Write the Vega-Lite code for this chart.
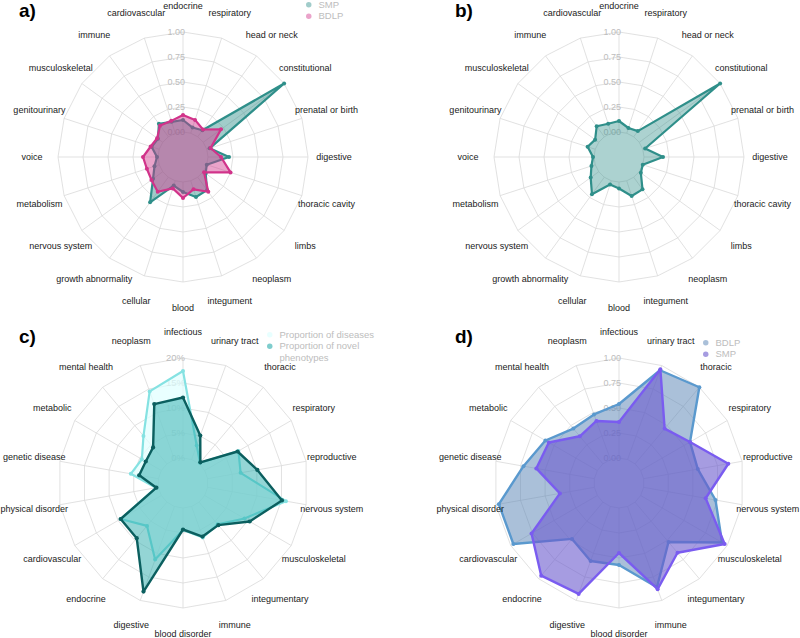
{
  "$schema": "https://vega.github.io/schema/vega-lite/v6.json",
  "padding": 0,
  "background": "white",
  "config": {"view": {"stroke": null}, "font": "Liberation Sans"},
  "datasets": {
    "da": [
      {"category": "endocrine", "SMP": 0.12, "BDLP": 0.17},
      {"category": "respiratory", "SMP": 0.06, "BDLP": 0.14},
      {"category": "head or neck", "SMP": 0.08, "BDLP": 0.09},
      {"category": "constitutional", "SMP": 1.0, "BDLP": 0.22},
      {"category": "prenatal or birth", "SMP": 0.03, "BDLP": 0.04},
      {"category": "digestive", "SMP": 0.21, "BDLP": 0.13},
      {"category": "thoracic cavity", "SMP": 0.0, "BDLP": 0.25},
      {"category": "limbs", "SMP": 0.03, "BDLP": 0.01},
      {"category": "neoplasm", "SMP": 0.16, "BDLP": 0.18},
      {"category": "integument", "SMP": 0.17, "BDLP": 0.09},
      {"category": "blood", "SMP": 0.1, "BDLP": 0.16},
      {"category": "cellular", "SMP": 0.05, "BDLP": 0.08},
      {"category": "growth abnormality", "SMP": 0.31, "BDLP": 0.18},
      {"category": "nervous system", "SMP": 0.12, "BDLP": 0.14},
      {"category": "metabolism", "SMP": 0.05, "BDLP": 0.13},
      {"category": "voice", "SMP": 0.01, "BDLP": 0.15},
      {"category": "genitourinary", "SMP": 0.08, "BDLP": 0.09},
      {"category": "musculoskeletal", "SMP": 0.06, "BDLP": 0.07},
      {"category": "immune", "SMP": 0.16, "BDLP": 0.14},
      {"category": "cardiovascular", "SMP": 0.12, "BDLP": 0.13}
    ],
    "db": [
      {"category": "endocrine", "SMP": 0.11},
      {"category": "respiratory", "SMP": 0.055},
      {"category": "head or neck", "SMP": 0.07},
      {"category": "constitutional", "SMP": 1.0},
      {"category": "prenatal or birth", "SMP": 0.025},
      {"category": "digestive", "SMP": 0.19},
      {"category": "thoracic cavity", "SMP": 0.0},
      {"category": "limbs", "SMP": 0.02},
      {"category": "neoplasm", "SMP": 0.15},
      {"category": "integument", "SMP": 0.16},
      {"category": "blood", "SMP": 0.065},
      {"category": "cellular", "SMP": 0.04},
      {"category": "growth abnormality", "SMP": 0.21},
      {"category": "nervous system", "SMP": 0.1},
      {"category": "metabolism", "SMP": 0.04},
      {"category": "voice", "SMP": 0.01},
      {"category": "genitourinary", "SMP": 0.08},
      {"category": "musculoskeletal", "SMP": 0.045},
      {"category": "immune", "SMP": 0.13},
      {"category": "cardiovascular", "SMP": 0.1}
    ],
    "dc": [
      {"category": "infectious", "diseases": 17.4, "novel": 12.1},
      {"category": "urinary tract", "diseases": 3.0, "novel": 5.1},
      {"category": "thoracic", "diseases": 0.3, "novel": 0.4},
      {"category": "respiratory", "diseases": 7.8, "novel": 7.6},
      {"category": "reproductive", "diseases": 6.7, "novel": 10.1},
      {"category": "nervous system", "diseases": 15.9, "novel": 15.1},
      {"category": "musculoskeletal", "diseases": 9.2, "novel": 10.4},
      {"category": "integumentary", "diseases": 5.8, "novel": 6.0},
      {"category": "immune", "diseases": 6.6, "novel": 6.4},
      {"category": "blood disorder", "diseases": 4.4, "novel": 4.3},
      {"category": "digestive", "diseases": 11.3, "novel": 18.1},
      {"category": "endocrine", "diseases": 6.2, "novel": 9.4},
      {"category": "cardiovascular", "diseases": 9.4, "novel": 9.4},
      {"category": "physical disorder", "diseases": 0.5, "novel": 0.4},
      {"category": "genetic disease", "diseases": 5.6, "novel": 3.9},
      {"category": "metabolic", "diseases": 4.5, "novel": 3.6},
      {"category": "mental health", "diseases": 7.3, "novel": 4.3},
      {"category": "neoplasm", "diseases": 14.5, "novel": 11.8}
    ],
    "dd": [
      {"category": "infectious", "BDLP": 0.54, "SMP": 0.36},
      {"category": "urinary tract", "BDLP": 0.95, "SMP": 0.96},
      {"category": "thoracic", "BDLP": 1.0, "SMP": 0.46},
      {"category": "respiratory", "BDLP": 0.57, "SMP": 0.57},
      {"category": "reproductive", "BDLP": 0.55, "SMP": 0.86},
      {"category": "nervous system", "BDLP": 0.73, "SMP": 0.63},
      {"category": "musculoskeletal", "BDLP": 0.94, "SMP": 0.97},
      {"category": "integumentary", "BDLP": 0.52, "SMP": 0.66},
      {"category": "immune", "BDLP": 0.86, "SMP": 0.88},
      {"category": "blood disorder", "BDLP": 0.57, "SMP": 0.45},
      {"category": "digestive", "BDLP": 0.58, "SMP": 0.93},
      {"category": "endocrine", "BDLP": 0.48, "SMP": 0.96},
      {"category": "cardiovascular", "BDLP": 0.97, "SMP": 0.76},
      {"category": "physical disorder", "BDLP": 0.97, "SMP": 0.35},
      {"category": "genetic disease", "BDLP": 0.72, "SMP": 0.59},
      {"category": "metabolic", "BDLP": 0.6, "SMP": 0.56},
      {"category": "mental health", "BDLP": 0.46, "SMP": 0.36},
      {"category": "neoplasm", "BDLP": 0.48, "SMP": 0.41}
    ]
  },
  "columns": 2,
  "spacing": {"row": 14, "column": 72},
  "bounds": "flush",
  "resolve": {
    "scale": {"x": "independent", "y": "independent", "fill": "independent", "stroke": "independent", "color": "independent"},
    "legend": {"fill": "independent", "stroke": "independent", "color": "independent"}
  },
  "concat": [
    {
      "width": 364, "height": 312,
      "title": {"text": "a)", "anchor": "start", "frame": "group", "offset": 0, "baseline": "alphabetic", "dx": 19, "dy": 36, "fontSize": 19, "fontWeight": "bold", "color": "#000000", "font": "Liberation Sans"},
      "data": {"name": "da"},
      "transform": [
        {"window": [{"op": "row_number", "as": "rn"}]},
        {"calculate": "2*PI*(datum.rn-1)/20", "as": "theta"}
      ],
      "encoding": {
        "x": {"field": "px", "type": "quantitative", "scale": {"domain": [-1.83, 1.81], "nice": false, "zero": false}, "axis": null},
        "y": {"field": "py", "type": "quantitative", "scale": {"domain": [-1.55, 1.57], "nice": false, "zero": false}, "axis": null}
      },
      "layer": [
        {
          "transform": [
            {"calculate": "[0, 0.25, 0.5, 0.75, 1]", "as": "lv"},
            {"flatten": ["lv"]},
            {"calculate": "(datum.lv + 0.25) * sin(datum.theta)", "as": "px"},
            {"calculate": "(datum.lv + 0.25) * cos(datum.theta)", "as": "py"}
          ],
          "mark": {"type": "line", "interpolate": "linear-closed", "color": "#D9D9D9", "strokeWidth": 0.8},
          "encoding": {"detail": {"field": "lv", "type": "nominal"}, "order": {"field": "rn", "type": "quantitative"}}
        },
        {
          "transform": [
            {"calculate": "0.25 * sin(datum.theta)", "as": "px"},
            {"calculate": "0.25 * cos(datum.theta)", "as": "py"},
            {"calculate": "1.25 * sin(datum.theta)", "as": "px2"},
            {"calculate": "1.25 * cos(datum.theta)", "as": "py2"}
          ],
          "mark": {"type": "rule", "color": "#D9D9D9", "strokeWidth": 0.8},
          "encoding": {"x2": {"field": "px2"}, "y2": {"field": "py2"}}
        },
        {
          "transform": [{"filter": "datum.rn == 1"}],
          "mark": {"type": "rule", "color": "#D4D4D4", "strokeWidth": 1.4},
          "encoding": {"x": {"datum": -1.3}, "x2": {"datum": 1.3}, "y": {"datum": 0}}
        },
        {
          "transform": [
            {"filter": "datum.rn == 1"},
            {"calculate": "[0, 0.25, 0.5, 0.75, 1]", "as": "lv"},
            {"flatten": ["lv"]},
            {"calculate": "0", "as": "px"},
            {"calculate": "datum.lv + 0.25", "as": "py"},
            {"calculate": "format(datum.lv, '.2f')", "as": "lab"}
          ],
          "mark": {"type": "text", "align": "right", "baseline": "middle", "dx": 2, "fontSize": 9, "color": "#BDBDBD"},
          "encoding": {"text": {"field": "lab", "type": "nominal"}}
        },
        {
          "transform": [
            {"fold": ["SMP", "BDLP"], "as": ["series", "value"]},
            {"filter": "datum.series == 'SMP'"},
            {"calculate": "(datum.value + 0.25) * sin(datum.theta)", "as": "px"},
            {"calculate": "(datum.value + 0.25) * cos(datum.theta)", "as": "py"}
          ],
          "mark": {"type": "line", "interpolate": "linear-closed", "strokeWidth": 2.2, "fillOpacity": 0.45, "strokeJoin": "round"},
          "encoding": {
            "order": {"field": "rn", "type": "quantitative"},
            "fill": {"field": "series", "type": "nominal", "scale": {"domain": ["SMP", "BDLP"], "range": ["#2F8F8A", "#D1338A"]},
              "legend": {"orient": "none", "legendX": 304, "legendY": 0, "title": null, "symbolType": "circle", "symbolSize": 30, "labelFontSize": 9.5, "labelColor": "#BDBDBD", "labelFont": "Liberation Sans", "labelOffset": 5, "rowPadding": 0.5, "padding": 0,
                "encode": {"symbols": {"update": {"stroke": {"value": "transparent"}, "strokeWidth": {"value": 0}, "fillOpacity": {"value": 1}, "opacity": {"value": 0.45}}}}}},
            "stroke": {"field": "series", "type": "nominal", "scale": {"domain": ["SMP", "BDLP"], "range": ["#2F8F8A", "#D1338A"]}, "legend": null}
          }
        },
        {
          "transform": [
            {"fold": ["SMP", "BDLP"], "as": ["series", "value"]},
            {"filter": "datum.series == 'SMP'"},
            {"calculate": "(datum.value + 0.25) * sin(datum.theta)", "as": "px"},
            {"calculate": "(datum.value + 0.25) * cos(datum.theta)", "as": "py"}
          ],
          "mark": {"type": "point", "filled": true, "size": 16, "opacity": 1},
          "encoding": {"color": {"field": "series", "type": "nominal", "scale": {"domain": ["SMP", "BDLP"], "range": ["#2F8F8A", "#D1338A"]}, "legend": null}}
        },
        {
          "transform": [
            {"fold": ["SMP", "BDLP"], "as": ["series", "value"]},
            {"filter": "datum.series == 'BDLP'"},
            {"calculate": "(datum.value + 0.25) * sin(datum.theta)", "as": "px"},
            {"calculate": "(datum.value + 0.25) * cos(datum.theta)", "as": "py"}
          ],
          "mark": {"type": "line", "interpolate": "linear-closed", "strokeWidth": 2.2, "fillOpacity": 0.45, "strokeJoin": "round"},
          "encoding": {
            "order": {"field": "rn", "type": "quantitative"},
            "fill": {"field": "series", "type": "nominal", "scale": {"domain": ["SMP", "BDLP"], "range": ["#2F8F8A", "#D1338A"]},
              "legend": {"orient": "none", "legendX": 304, "legendY": 0, "title": null, "symbolType": "circle", "symbolSize": 30, "labelFontSize": 9.5, "labelColor": "#BDBDBD", "labelFont": "Liberation Sans", "labelOffset": 5, "rowPadding": 0.5, "padding": 0,
                "encode": {"symbols": {"update": {"stroke": {"value": "transparent"}, "strokeWidth": {"value": 0}, "fillOpacity": {"value": 1}, "opacity": {"value": 0.45}}}}}},
            "stroke": {"field": "series", "type": "nominal", "scale": {"domain": ["SMP", "BDLP"], "range": ["#2F8F8A", "#D1338A"]}, "legend": null}
          }
        },
        {
          "transform": [
            {"fold": ["SMP", "BDLP"], "as": ["series", "value"]},
            {"filter": "datum.series == 'BDLP'"},
            {"calculate": "(datum.value + 0.25) * sin(datum.theta)", "as": "px"},
            {"calculate": "(datum.value + 0.25) * cos(datum.theta)", "as": "py"}
          ],
          "mark": {"type": "point", "filled": true, "size": 16, "opacity": 1},
          "encoding": {"color": {"field": "series", "type": "nominal", "scale": {"domain": ["SMP", "BDLP"], "range": ["#2F8F8A", "#D1338A"]}, "legend": null}}
        },
        {
          "transform": [
            {"calculate": "1.51 * sin(datum.theta)", "as": "px"},
            {"calculate": "1.51 * cos(datum.theta)", "as": "py"}
          ],
          "mark": {"type": "text", "align": "center", "baseline": "middle", "fontSize": 9, "color": "#1A1A1A"},
          "encoding": {"text": {"field": "category", "type": "nominal"}}
        }
      ]
    },
    {
      "width": 364, "height": 312,
      "title": {"text": "b)", "anchor": "start", "frame": "group", "offset": 0, "baseline": "alphabetic", "dx": 19, "dy": 36, "fontSize": 19, "fontWeight": "bold", "color": "#000000", "font": "Liberation Sans"},
      "data": {"name": "db"},
      "transform": [
        {"window": [{"op": "row_number", "as": "rn"}]},
        {"calculate": "2*PI*(datum.rn-1)/20", "as": "theta"}
      ],
      "encoding": {
        "x": {"field": "px", "type": "quantitative", "scale": {"domain": [-1.83, 1.81], "nice": false, "zero": false}, "axis": null},
        "y": {"field": "py", "type": "quantitative", "scale": {"domain": [-1.55, 1.57], "nice": false, "zero": false}, "axis": null}
      },
      "layer": [
        {
          "transform": [
            {"calculate": "[0, 0.25, 0.5, 0.75, 1]", "as": "lv"},
            {"flatten": ["lv"]},
            {"calculate": "(datum.lv + 0.25) * sin(datum.theta)", "as": "px"},
            {"calculate": "(datum.lv + 0.25) * cos(datum.theta)", "as": "py"}
          ],
          "mark": {"type": "line", "interpolate": "linear-closed", "color": "#D9D9D9", "strokeWidth": 0.8},
          "encoding": {"detail": {"field": "lv", "type": "nominal"}, "order": {"field": "rn", "type": "quantitative"}}
        },
        {
          "transform": [
            {"calculate": "0.25 * sin(datum.theta)", "as": "px"},
            {"calculate": "0.25 * cos(datum.theta)", "as": "py"},
            {"calculate": "1.25 * sin(datum.theta)", "as": "px2"},
            {"calculate": "1.25 * cos(datum.theta)", "as": "py2"}
          ],
          "mark": {"type": "rule", "color": "#D9D9D9", "strokeWidth": 0.8},
          "encoding": {"x2": {"field": "px2"}, "y2": {"field": "py2"}}
        },
        {
          "transform": [{"filter": "datum.rn == 1"}],
          "mark": {"type": "rule", "color": "#D4D4D4", "strokeWidth": 1.4},
          "encoding": {"x": {"datum": -1.3}, "x2": {"datum": 1.3}, "y": {"datum": 0}}
        },
        {
          "transform": [
            {"filter": "datum.rn == 1"},
            {"calculate": "[0, 0.25, 0.5, 0.75, 1]", "as": "lv"},
            {"flatten": ["lv"]},
            {"calculate": "0", "as": "px"},
            {"calculate": "datum.lv + 0.25", "as": "py"},
            {"calculate": "format(datum.lv, '.2f')", "as": "lab"}
          ],
          "mark": {"type": "text", "align": "right", "baseline": "middle", "dx": 2, "fontSize": 9, "color": "#BDBDBD"},
          "encoding": {"text": {"field": "lab", "type": "nominal"}}
        },
        {
          "transform": [
            {"fold": ["SMP"], "as": ["series", "value"]},
            {"calculate": "(datum.value + 0.25) * sin(datum.theta)", "as": "px"},
            {"calculate": "(datum.value + 0.25) * cos(datum.theta)", "as": "py"}
          ],
          "mark": {"type": "line", "interpolate": "linear-closed", "strokeWidth": 2.2, "fillOpacity": 0.4, "strokeJoin": "round"},
          "encoding": {
            "order": {"field": "rn", "type": "quantitative"},
            "fill": {"field": "series", "type": "nominal", "scale": {"domain": ["SMP"], "range": ["#2F8F8A"]}, "legend": null},
            "stroke": {"field": "series", "type": "nominal", "scale": {"domain": ["SMP"], "range": ["#2F8F8A"]}, "legend": null}
          }
        },
        {
          "transform": [
            {"fold": ["SMP"], "as": ["series", "value"]},
            {"calculate": "(datum.value + 0.25) * sin(datum.theta)", "as": "px"},
            {"calculate": "(datum.value + 0.25) * cos(datum.theta)", "as": "py"}
          ],
          "mark": {"type": "point", "filled": true, "size": 16, "opacity": 1},
          "encoding": {"color": {"field": "series", "type": "nominal", "scale": {"domain": ["SMP"], "range": ["#2F8F8A"]}, "legend": null}}
        },
        {
          "transform": [
            {"calculate": "1.51 * sin(datum.theta)", "as": "px"},
            {"calculate": "1.51 * cos(datum.theta)", "as": "py"}
          ],
          "mark": {"type": "text", "align": "center", "baseline": "middle", "fontSize": 9, "color": "#1A1A1A"},
          "encoding": {"text": {"field": "category", "type": "nominal"}}
        }
      ]
    },
    {
      "width": 364, "height": 312,
      "title": {"text": "c)", "anchor": "start", "frame": "group", "offset": 0, "baseline": "alphabetic", "dx": 19, "dy": 36, "fontSize": 19, "fontWeight": "bold", "color": "#000000", "font": "Liberation Sans"},
      "data": {"name": "dc"},
      "transform": [
        {"window": [{"op": "row_number", "as": "rn"}]},
        {"calculate": "2*PI*(datum.rn-1)/18", "as": "theta"}
      ],
      "encoding": {
        "x": {"field": "px", "type": "quantitative", "scale": {"domain": [-1.83, 1.81], "nice": false, "zero": false}, "axis": null},
        "y": {"field": "py", "type": "quantitative", "scale": {"domain": [-1.55, 1.57], "nice": false, "zero": false}, "axis": null}
      },
      "layer": [
        {
          "transform": [
            {"calculate": "[0, 5, 10, 15, 20]", "as": "lv"},
            {"flatten": ["lv"]},
            {"calculate": "(datum.lv + 5) / 20 * sin(datum.theta)", "as": "px"},
            {"calculate": "(datum.lv + 5) / 20 * cos(datum.theta)", "as": "py"}
          ],
          "mark": {"type": "line", "interpolate": "linear-closed", "color": "#D9D9D9", "strokeWidth": 0.8},
          "encoding": {"detail": {"field": "lv", "type": "nominal"}, "order": {"field": "rn", "type": "quantitative"}}
        },
        {
          "transform": [
            {"calculate": "0.25 * sin(datum.theta)", "as": "px"},
            {"calculate": "0.25 * cos(datum.theta)", "as": "py"},
            {"calculate": "1.25 * sin(datum.theta)", "as": "px2"},
            {"calculate": "1.25 * cos(datum.theta)", "as": "py2"}
          ],
          "mark": {"type": "rule", "color": "#D9D9D9", "strokeWidth": 0.8},
          "encoding": {"x2": {"field": "px2"}, "y2": {"field": "py2"}}
        },
        {
          "transform": [
            {"filter": "datum.rn == 1"},
            {"calculate": "[0, 5, 10, 15, 20]", "as": "lv"},
            {"flatten": ["lv"]},
            {"calculate": "0", "as": "px"},
            {"calculate": "(datum.lv + 5) / 20", "as": "py"},
            {"calculate": "datum.lv + '%'", "as": "lab"}
          ],
          "mark": {"type": "text", "align": "right", "baseline": "middle", "dx": 2, "fontSize": 9.5, "color": "#BDBDBD"},
          "encoding": {"text": {"field": "lab", "type": "nominal"}}
        },
        {
          "transform": [
            {"fold": ["diseases", "novel"], "as": ["series", "value"]},
            {"filter": "datum.series == 'diseases'"},
            {"calculate": "(datum.value + 5) / 20 * sin(datum.theta)", "as": "px"},
            {"calculate": "(datum.value + 5) / 20 * cos(datum.theta)", "as": "py"}
          ],
          "mark": {"type": "line", "interpolate": "linear-closed", "strokeWidth": 2.2, "fillOpacity": 0.7, "strokeJoin": "round"},
          "encoding": {
            "order": {"field": "rn", "type": "quantitative"},
            "fill": {"field": "series", "type": "nominal", "scale": {"domain": ["diseases", "novel"], "range": ["#E0FFFF", "#2AABAB"]},
              "legend": {"orient": "none", "legendX": 265, "legendY": 4, "title": null, "symbolType": "circle", "symbolSize": 30, "labelFontSize": 9.5, "labelColor": "#BDBDBD", "labelFont": "Liberation Sans", "labelOffset": 5, "rowPadding": 0.5, "padding": 0,
                "labelExpr": "datum.value == 'diseases' ? 'Proportion of diseases' : ['Proportion of novel', '   phenotypes']",
                "encode": {"symbols": {"update": {"stroke": {"value": "transparent"}, "strokeWidth": {"value": 0}, "fillOpacity": {"value": 1}, "opacity": {"signal": "datum.value == 'diseases' ? 0.75 : 0.6"}}}}}},
            "stroke": {"field": "series", "type": "nominal", "scale": {"domain": ["diseases", "novel"], "range": ["#85E2E2", "#0B5F5F"]}, "legend": null}
          }
        },
        {
          "transform": [
            {"fold": ["diseases", "novel"], "as": ["series", "value"]},
            {"filter": "datum.series == 'diseases'"},
            {"calculate": "(datum.value + 5) / 20 * sin(datum.theta)", "as": "px"},
            {"calculate": "(datum.value + 5) / 20 * cos(datum.theta)", "as": "py"}
          ],
          "mark": {"type": "point", "filled": true, "size": 16, "opacity": 1},
          "encoding": {"color": {"field": "series", "type": "nominal", "scale": {"domain": ["diseases", "novel"], "range": ["#85E2E2", "#0B5F5F"]}, "legend": null}}
        },
        {
          "transform": [
            {"fold": ["diseases", "novel"], "as": ["series", "value"]},
            {"filter": "datum.series == 'novel'"},
            {"calculate": "(datum.value + 5) / 20 * sin(datum.theta)", "as": "px"},
            {"calculate": "(datum.value + 5) / 20 * cos(datum.theta)", "as": "py"}
          ],
          "mark": {"type": "line", "interpolate": "linear-closed", "strokeWidth": 2.4, "fillOpacity": 0.5, "strokeJoin": "round"},
          "encoding": {
            "order": {"field": "rn", "type": "quantitative"},
            "fill": {"field": "series", "type": "nominal", "scale": {"domain": ["diseases", "novel"], "range": ["#E0FFFF", "#2AABAB"]},
              "legend": {"orient": "none", "legendX": 265, "legendY": 4, "title": null, "symbolType": "circle", "symbolSize": 30, "labelFontSize": 9.5, "labelColor": "#BDBDBD", "labelFont": "Liberation Sans", "labelOffset": 5, "rowPadding": 0.5, "padding": 0,
                "labelExpr": "datum.value == 'diseases' ? 'Proportion of diseases' : ['Proportion of novel', '   phenotypes']",
                "encode": {"symbols": {"update": {"stroke": {"value": "transparent"}, "strokeWidth": {"value": 0}, "fillOpacity": {"value": 1}, "opacity": {"signal": "datum.value == 'diseases' ? 0.75 : 0.6"}}}}}},
            "stroke": {"field": "series", "type": "nominal", "scale": {"domain": ["diseases", "novel"], "range": ["#85E2E2", "#0B5F5F"]}, "legend": null}
          }
        },
        {
          "transform": [
            {"fold": ["diseases", "novel"], "as": ["series", "value"]},
            {"filter": "datum.series == 'novel'"},
            {"calculate": "(datum.value + 5) / 20 * sin(datum.theta)", "as": "px"},
            {"calculate": "(datum.value + 5) / 20 * cos(datum.theta)", "as": "py"}
          ],
          "mark": {"type": "point", "filled": true, "size": 18, "opacity": 1},
          "encoding": {"color": {"field": "series", "type": "nominal", "scale": {"domain": ["diseases", "novel"], "range": ["#85E2E2", "#0B5F5F"]}, "legend": null}}
        },
        {
          "transform": [
            {"calculate": "1.51 * sin(datum.theta)", "as": "px"},
            {"calculate": "1.51 * cos(datum.theta)", "as": "py"}
          ],
          "mark": {"type": "text", "align": "center", "baseline": "middle", "fontSize": 9, "color": "#1A1A1A"},
          "encoding": {"text": {"field": "category", "type": "nominal"}}
        }
      ]
    },
    {
      "width": 364, "height": 312,
      "title": {"text": "d)", "anchor": "start", "frame": "group", "offset": 0, "baseline": "alphabetic", "dx": 19, "dy": 36, "fontSize": 19, "fontWeight": "bold", "color": "#000000", "font": "Liberation Sans"},
      "data": {"name": "dd"},
      "transform": [
        {"window": [{"op": "row_number", "as": "rn"}]},
        {"calculate": "2*PI*(datum.rn-1)/18", "as": "theta"}
      ],
      "encoding": {
        "x": {"field": "px", "type": "quantitative", "scale": {"domain": [-1.83, 1.81], "nice": false, "zero": false}, "axis": null},
        "y": {"field": "py", "type": "quantitative", "scale": {"domain": [-1.55, 1.57], "nice": false, "zero": false}, "axis": null}
      },
      "layer": [
        {
          "transform": [
            {"calculate": "[0, 0.25, 0.5, 0.75, 1]", "as": "lv"},
            {"flatten": ["lv"]},
            {"calculate": "(datum.lv + 0.25) * sin(datum.theta)", "as": "px"},
            {"calculate": "(datum.lv + 0.25) * cos(datum.theta)", "as": "py"}
          ],
          "mark": {"type": "line", "interpolate": "linear-closed", "color": "#D9D9D9", "strokeWidth": 0.8},
          "encoding": {"detail": {"field": "lv", "type": "nominal"}, "order": {"field": "rn", "type": "quantitative"}}
        },
        {
          "transform": [
            {"calculate": "0.25 * sin(datum.theta)", "as": "px"},
            {"calculate": "0.25 * cos(datum.theta)", "as": "py"},
            {"calculate": "1.25 * sin(datum.theta)", "as": "px2"},
            {"calculate": "1.25 * cos(datum.theta)", "as": "py2"}
          ],
          "mark": {"type": "rule", "color": "#D9D9D9", "strokeWidth": 0.8},
          "encoding": {"x2": {"field": "px2"}, "y2": {"field": "py2"}}
        },
        {
          "transform": [
            {"filter": "datum.rn == 1"},
            {"calculate": "[0, 0.25, 0.5, 0.75, 1]", "as": "lv"},
            {"flatten": ["lv"]},
            {"calculate": "0", "as": "px"},
            {"calculate": "datum.lv + 0.25", "as": "py"},
            {"calculate": "format(datum.lv, '.2f')", "as": "lab"}
          ],
          "mark": {"type": "text", "align": "right", "baseline": "middle", "dx": 2, "fontSize": 9, "color": "#BDBDBD"},
          "encoding": {"text": {"field": "lab", "type": "nominal"}}
        },
        {
          "transform": [
            {"fold": ["BDLP", "SMP"], "as": ["series", "value"]},
            {"filter": "datum.series == 'BDLP'"},
            {"calculate": "(datum.value + 0.25) * sin(datum.theta)", "as": "px"},
            {"calculate": "(datum.value + 0.25) * cos(datum.theta)", "as": "py"}
          ],
          "mark": {"type": "line", "interpolate": "linear-closed", "strokeWidth": 2.4, "fillOpacity": 0.5, "strokeJoin": "round"},
          "encoding": {
            "order": {"field": "rn", "type": "quantitative"},
            "fill": {"field": "series", "type": "nominal", "scale": {"domain": ["BDLP", "SMP"], "range": ["#5681B4", "#6A5ACD"]},
              "legend": {"orient": "none", "legendX": 265, "legendY": 12, "title": null, "symbolType": "circle", "symbolSize": 30, "labelFontSize": 9.5, "labelColor": "#BDBDBD", "labelFont": "Liberation Sans", "labelOffset": 5, "rowPadding": 0.5, "padding": 0,
                "encode": {"symbols": {"update": {"stroke": {"value": "transparent"}, "strokeWidth": {"value": 0}, "fillOpacity": {"value": 1}, "opacity": {"signal": "datum.value == 'BDLP' ? 0.5 : 0.6"}}}}}},
            "stroke": {"field": "series", "type": "nominal", "scale": {"domain": ["BDLP", "SMP"], "range": ["#5A99CE", "#7A5CF0"]}, "legend": null}
          }
        },
        {
          "transform": [
            {"fold": ["BDLP", "SMP"], "as": ["series", "value"]},
            {"filter": "datum.series == 'BDLP'"},
            {"calculate": "(datum.value + 0.25) * sin(datum.theta)", "as": "px"},
            {"calculate": "(datum.value + 0.25) * cos(datum.theta)", "as": "py"}
          ],
          "mark": {"type": "point", "filled": true, "size": 16, "opacity": 1},
          "encoding": {"color": {"field": "series", "type": "nominal", "scale": {"domain": ["BDLP", "SMP"], "range": ["#5A99CE", "#7A5CF0"]}, "legend": null}}
        },
        {
          "transform": [
            {"fold": ["BDLP", "SMP"], "as": ["series", "value"]},
            {"filter": "datum.series == 'SMP'"},
            {"calculate": "(datum.value + 0.25) * sin(datum.theta)", "as": "px"},
            {"calculate": "(datum.value + 0.25) * cos(datum.theta)", "as": "py"}
          ],
          "mark": {"type": "line", "interpolate": "linear-closed", "strokeWidth": 2.4, "fillOpacity": 0.6, "strokeJoin": "round"},
          "encoding": {
            "order": {"field": "rn", "type": "quantitative"},
            "fill": {"field": "series", "type": "nominal", "scale": {"domain": ["BDLP", "SMP"], "range": ["#5681B4", "#6A5ACD"]},
              "legend": {"orient": "none", "legendX": 265, "legendY": 12, "title": null, "symbolType": "circle", "symbolSize": 30, "labelFontSize": 9.5, "labelColor": "#BDBDBD", "labelFont": "Liberation Sans", "labelOffset": 5, "rowPadding": 0.5, "padding": 0,
                "encode": {"symbols": {"update": {"stroke": {"value": "transparent"}, "strokeWidth": {"value": 0}, "fillOpacity": {"value": 1}, "opacity": {"signal": "datum.value == 'BDLP' ? 0.5 : 0.6"}}}}}},
            "stroke": {"field": "series", "type": "nominal", "scale": {"domain": ["BDLP", "SMP"], "range": ["#5A99CE", "#7A5CF0"]}, "legend": null}
          }
        },
        {
          "transform": [
            {"fold": ["BDLP", "SMP"], "as": ["series", "value"]},
            {"filter": "datum.series == 'SMP'"},
            {"calculate": "(datum.value + 0.25) * sin(datum.theta)", "as": "px"},
            {"calculate": "(datum.value + 0.25) * cos(datum.theta)", "as": "py"}
          ],
          "mark": {"type": "point", "filled": true, "size": 16, "opacity": 1},
          "encoding": {"color": {"field": "series", "type": "nominal", "scale": {"domain": ["BDLP", "SMP"], "range": ["#5A99CE", "#7A5CF0"]}, "legend": null}}
        },
        {
          "transform": [
            {"calculate": "1.51 * sin(datum.theta)", "as": "px"},
            {"calculate": "1.51 * cos(datum.theta)", "as": "py"}
          ],
          "mark": {"type": "text", "align": "center", "baseline": "middle", "fontSize": 9, "color": "#1A1A1A"},
          "encoding": {"text": {"field": "category", "type": "nominal"}}
        }
      ]
    }
  ]
}
